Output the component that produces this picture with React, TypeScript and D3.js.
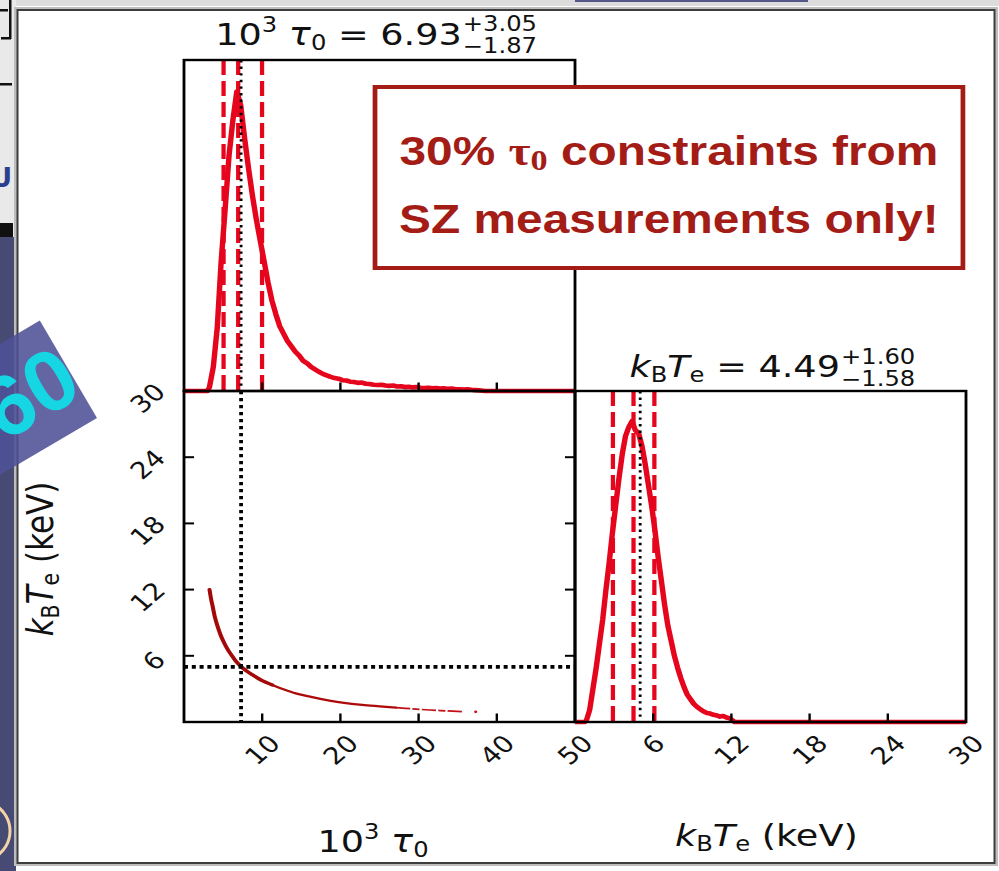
import React from 'react';
import * as d3 from 'd3';

// Axis ticks
const TAU_TICKS = [10, 20, 30, 40, 50];
const TE_TICKS = [6, 12, 18, 24, 30];
const TAU_DOMAIN = [0, 50];
const TE_DOMAIN = [0, 30];

// Marginal posterior of 10^3 tau_0 (normalised to peak ~1), bins of 0.5 starting at 3.0
const TAU_BIN_START = 3.0;
const TAU_BIN_WIDTH = 0.5;
const TAU_HIST = [
  0.012, 0.08, 0.21, 0.43, 0.6, 0.78, 0.9, 0.995, 0.95, 0.84,
  0.74, 0.65, 0.57, 0.5, 0.43, 0.36, 0.3, 0.255, 0.215, 0.19,
  0.165, 0.148, 0.13, 0.117, 0.1, 0.092, 0.08, 0.072, 0.064, 0.057,
  0.052, 0.047, 0.043, 0.041, 0.036, 0.035, 0.031, 0.03, 0.027, 0.028,
  0.024, 0.023, 0.021, 0.02, 0.021, 0.018, 0.017, 0.018, 0.015, 0.016,
  0.013, 0.014, 0.012, 0.013, 0.011, 0.01, 0.011, 0.009, 0.01, 0.008,
  0.009, 0.007, 0.008, 0.006, 0.006, 0.005, 0.006, 0.004, 0.003, 0.002,
  0.001,
];

// Marginal posterior of k_B T_e (keV), bins of 0.25 starting at 0.75
const TE_BIN_START = 0.75;
const TE_BIN_WIDTH = 0.25;
const TE_HIST = [
  0.005, 0.04, 0.11, 0.18, 0.26, 0.34, 0.44, 0.53, 0.63, 0.72,
  0.81, 0.89, 0.95, 0.98, 1.0, 0.97, 0.96, 0.92, 0.86, 0.79,
  0.72, 0.64, 0.55, 0.47, 0.39, 0.32, 0.27, 0.22, 0.18, 0.145,
  0.115, 0.09, 0.075, 0.06, 0.05, 0.042, 0.035, 0.03, 0.028, 0.024,
  0.022, 0.018, 0.02, 0.015, 0.012, 0.004,
];

// Median and 16/84 percentile offsets
const TAU_MEDIAN = 6.93;
const TAU_ERR = [1.87, 3.05];
const TE_MEDIAN = 4.49;
const TE_ERR = [1.58, 1.6];

// Input (truth) values
const TRUTH_TAU = 7.3;
const TRUTH_TE = 5.0;

// Joint posterior ridge in the (tau_0, T_e) plane
const RIDGE_TAU = [3.26, 3.45, 3.66, 3.95, 4.3, 4.7, 5.15, 5.65, 6.2, 6.7, 7.29, 8.0, 8.77, 10.0, 11.3, 12.8, 14.3, 16.4, 18.6, 20.7, 22.8, 25.0, 27.1, 29.2, 31.4, 33.5, 35.6];
const RIDGE_TE = [12.0, 11.2, 10.5, 9.5, 8.66, 7.85, 7.15, 6.5, 5.94, 5.45, 5.03, 4.62, 4.27, 3.75, 3.36, 2.95, 2.6, 2.25, 1.94, 1.72, 1.55, 1.42, 1.3, 1.19, 1.09, 1.01, 0.94];
const STRAY_SAMPLE = [37.3, 0.92];

const NOTE_LINES = ['constraints from', 'SZ measurements only!'];

// Layout
const P = 331; // panel size in chart units
const SX = 391 / 331; // horizontal stretch of the figure
const X0 = 184;
const ROW0_TOP = 60;
const ROW1_TOP = 391;
const ROW1_BOT = 722;

const RED = '#e5051c';
const DARK_RED = '#a30909';
const NOTE_RED = '#a31c16';
const FONT = '"DejaVu Sans", sans-serif';
const F = 31;
const FS = 20.5;
const TF = 23.5;

// Histogram outline through bin centres, running along the baseline outside the support
function outline(start: number, width: number, vals: number[], lo: number, hi: number) {
  const pts: [number, number][] = [[lo, 0], [start, 0]];
  vals.forEach((v, i) => pts.push([start + (i + 0.5) * width, v]));
  pts.push([start + vals.length * width, 0]);
  pts.push([hi, 0]);
  return pts;
}

export default function App() {
  const xTau = d3.scaleLinear().domain(TAU_DOMAIN).range([0, P]);
  const xTe = d3.scaleLinear().domain(TE_DOMAIN).range([P, 2 * P]);
  const yTe = d3.scaleLinear().domain(TE_DOMAIN).range([ROW1_BOT, ROW1_TOP]);
  const yTauHist = d3.scaleLinear().domain([0, 1.1]).range([ROW1_TOP, ROW0_TOP]);
  const yTeHist = d3.scaleLinear().domain([0, 1.1]).range([ROW1_BOT, ROW1_TOP]);

  const tauLine = d3
    .line<[number, number]>()
    .x((d) => xTau(d[0]))
    .y((d) => yTauHist(d[1]))
    .curve(d3.curveLinear)(outline(TAU_BIN_START, TAU_BIN_WIDTH, TAU_HIST, TAU_DOMAIN[0], TAU_DOMAIN[1]));

  const teLine = d3
    .line<[number, number]>()
    .x((d) => xTe(d[0]))
    .y((d) => yTeHist(d[1]))
    .curve(d3.curveLinear)(outline(TE_BIN_START, TE_BIN_WIDTH, TE_HIST, TE_DOMAIN[0], TE_DOMAIN[1]));

  const ridge = RIDGE_TAU.map((t, i) => [t, RIDGE_TE[i]] as [number, number]);
  const ridgeLine = d3
    .line<[number, number]>()
    .x((d) => xTau(d[0]))
    .y((d) => yTe(d[1]))
    .curve(d3.curveCatmullRom);
  const ridgeCore = ridgeLine(ridge.slice(0, 15));
  const ridgeMid = ridgeLine(ridge.slice(14, 23));
  const ridgeTail = ridgeLine(ridge.slice(22));

  const tauQ = [TAU_MEDIAN - TAU_ERR[0], TAU_MEDIAN, TAU_MEDIAN + TAU_ERR[1]];
  const teQ = [TE_MEDIAN - TE_ERR[0], TE_MEDIAN, TE_MEDIAN + TE_ERR[1]];

  const rotatedBox = (label: string) => {
    const w = label.length * 0.636 * TF;
    const h = 0.729 * TF;
    return (w + h) / Math.SQRT2;
  };

  const xTickLabel = (x: number, label: string, key: string) => {
    const b = rotatedBox(label);
    const cy = ROW1_BOT + 11 + b / 2;
    return (
      <text key={key} transform={`translate(${x},${cy}) rotate(-45)`} textAnchor="middle" dy="0.36em" fontSize={TF} fontFamily={FONT} fill="#111">
        {label}
      </text>
    );
  };

  const yTickLabel = (y: number, label: string, key: string) => {
    const b = rotatedBox(label);
    const cx = -14.4 - b / 2;
    const cy = y + (label.length > 1 ? 7 : 5);
    return (
      <text key={key} transform={`translate(${cx},${cy}) rotate(-45)`} textAnchor="middle" dy="0.36em" fontSize={TF} fontFamily={FONT} fill="#111">
        {label}
      </text>
    );
  };

  const tick = 8.5;
  const spine = { fill: 'none', stroke: '#000', strokeWidth: 2.4 } as const;

  return (
    <svg width={999} height={871} style={{ position: 'absolute', left: 0, top: 0 }}>
      {/* surrounding slide */}
      <rect x={0} y={0} width={999} height={871} fill="#ffffff" />
      <rect x={0} y={0} width={999} height={6} fill="#dcdcdc" />
      <rect x={575} y={0} width={233} height={2} fill="#55578a" />
      <rect x={0} y={0} width={16} height={237} fill="#e9e9e9" />
      <rect x={0} y={9} width={8} height={2.5} fill="#111" />
      <rect x={9} y={0} width={2.5} height={39} fill="#111" />
      <rect x={1} y={37} width={10} height={2.5} fill="#111" />
      <rect x={0} y={83} width={12} height={2.5} fill="#111" />
      <text x={-9} y={187} fontSize={26} fontWeight="bold" fontFamily={FONT} fill="#2c3f8f">U</text>
      <rect x={0} y={223} width={13} height={14} fill="#111" />
      <rect x={0} y={237} width={16} height={634} fill="#474a73" />
      <path d="M -5 805 A 30 30 0 0 1 -5 857" fill="none" stroke="#f3d4a6" strokeWidth={3} />
      <rect x={16.5} y={9.5} width={979} height={854} fill="#ffffff" stroke="#bdbdbd" strokeWidth={5} />
      <rect x={17.5} y={10} width={977} height={853} fill="#ffffff" stroke="#3d3d3d" strokeWidth={2} />

      <g transform={`translate(${X0},0) scale(${SX},1)`}>
        {/* top-left: tau_0 marginal */}
        <path d={tauLine ?? ''} fill="none" stroke={RED} strokeWidth={4.6} strokeLinejoin="round" />
        {tauQ.map((q, i) => (
          <line key={`tq${i}`} x1={xTau(q)} x2={xTau(q)} y1={ROW0_TOP} y2={ROW1_TOP} stroke={RED} strokeWidth={3.6} strokeDasharray="15 6" />
        ))}
        <line x1={xTau(TRUTH_TAU)} x2={xTau(TRUTH_TAU)} y1={ROW0_TOP} y2={ROW1_TOP} stroke="#000" strokeWidth={2.4} strokeDasharray="2.4 4.2" />
        <rect x={0} y={ROW0_TOP} width={P} height={P} {...spine} />
        {TAU_TICKS.slice(0, -1).map((t) => (
          <line key={`tt${t}`} x1={xTau(t)} x2={xTau(t)} y1={ROW1_TOP} y2={ROW1_TOP - tick} stroke="#000" strokeWidth={2} />
        ))}

        {/* bottom-left: joint posterior */}
        <path d={ridgeCore ?? ''} fill="none" stroke={DARK_RED} strokeWidth={3.4} strokeLinecap="round" />
        <path d={ridgeMid ?? ''} fill="none" stroke="#ad0a0a" strokeWidth={2.3} strokeLinecap="round" />
        <path d={ridgeTail ?? ''} fill="none" stroke="#c20f18" strokeWidth={1.7} strokeDasharray="12 2 6 2" />
        <circle cx={xTau(STRAY_SAMPLE[0])} cy={yTe(STRAY_SAMPLE[1])} r={1.3} fill="#d01020" />
        <line x1={xTau(TRUTH_TAU)} x2={xTau(TRUTH_TAU)} y1={ROW1_TOP} y2={ROW1_BOT} stroke="#000" strokeWidth={3.2} strokeDasharray="3.2 3.8" />
        <line x1={0} x2={P} y1={yTe(TRUTH_TE)} y2={yTe(TRUTH_TE)} stroke="#000" strokeWidth={3.6} strokeDasharray="3.4 3.2" />
        <rect x={0} y={ROW1_TOP} width={P} height={P} {...spine} />
        {TAU_TICKS.slice(0, -1).map((t) => (
          <line key={`bt${t}`} x1={xTau(t)} x2={xTau(t)} y1={ROW1_BOT} y2={ROW1_BOT - tick} stroke="#000" strokeWidth={2} />
        ))}
        {TE_TICKS.map((t) => (
          <g key={`lt${t}`}>
            <line x1={0} x2={tick} y1={yTe(t)} y2={yTe(t)} stroke="#000" strokeWidth={2} />
            <line x1={P} x2={P - tick} y1={yTe(t)} y2={yTe(t)} stroke="#000" strokeWidth={2} />
          </g>
        ))}
        {TAU_TICKS.map((t) => xTickLabel(xTau(t), String(t), `xl${t}`))}
        {TE_TICKS.map((t) => yTickLabel(yTe(t), String(t), `yl${t}`))}

        {/* bottom-right: T_e marginal */}
        <path d={teLine ?? ''} fill="none" stroke={RED} strokeWidth={4.6} strokeLinejoin="round" />
        {teQ.map((q, i) => (
          <line key={`eq${i}`} x1={xTe(q)} x2={xTe(q)} y1={ROW1_TOP} y2={ROW1_BOT} stroke={RED} strokeWidth={3.6} strokeDasharray="15 6" />
        ))}
        <line x1={xTe(TRUTH_TE)} x2={xTe(TRUTH_TE)} y1={ROW1_TOP} y2={ROW1_BOT} stroke="#000" strokeWidth={2.4} strokeDasharray="2.4 4.2" />
        <rect x={P} y={ROW1_TOP} width={P} height={P} {...spine} />
        {TE_TICKS.slice(0, -1).map((t) => (
          <line key={`et${t}`} x1={xTe(t)} x2={xTe(t)} y1={ROW1_BOT} y2={ROW1_BOT - tick} stroke="#000" strokeWidth={2} />
        ))}
        {TE_TICKS.map((t) => xTickLabel(xTe(t), String(t), `el${t}`))}

        {/* titles */}
        <text x={235.1} y={45} textAnchor="end" fontSize={F} fontFamily={FONT} fill="#111">
          10<tspan fontSize={FS} dy={-13}>3</tspan>
          <tspan dy={13}> </tspan>
          <tspan fontStyle="italic">τ</tspan>
          <tspan fontSize={FS} dy={5}>0</tspan>
          <tspan dy={-5}>{` = ${TAU_MEDIAN.toFixed(2)}`}</tspan>
        </text>
        <text x={236} y={31} fontSize={FS} fontFamily={FONT} fill="#111">{`+${TAU_ERR[1].toFixed(2)}`}</text>
        <text x={236} y={53} fontSize={FS} fontFamily={FONT} fill="#111">{`−${TAU_ERR[0].toFixed(2)}`}</text>

        <text x={555.3} y={376.7} textAnchor="end" fontSize={F} fontFamily={FONT} fill="#111">
          <tspan fontStyle="italic">k</tspan>
          <tspan fontSize={FS} dy={5}>B</tspan>
          <tspan fontStyle="italic" dy={-5}>T</tspan>
          <tspan fontSize={FS} dy={5}>e</tspan>
          <tspan dy={-5}>{` = ${TE_MEDIAN.toFixed(2)}`}</tspan>
        </text>
        <text x={556.2} y={364} fontSize={FS} fontFamily={FONT} fill="#111">{`+${TE_ERR[1].toFixed(2)}`}</text>
        <text x={556.2} y={386} fontSize={FS} fontFamily={FONT} fill="#111">{`−${TE_ERR[0].toFixed(2)}`}</text>

        {/* axis labels */}
        <text x={160} y={852} textAnchor="middle" fontSize={F} fontFamily={FONT} fill="#111">
          10<tspan fontSize={FS} dy={-13}>3</tspan>
          <tspan dy={13}> </tspan>
          <tspan fontStyle="italic">τ</tspan>
          <tspan fontSize={FS} dy={5}>0</tspan>
        </text>
        <text x={493} y={846} textAnchor="middle" fontSize={F} fontFamily={FONT} fill="#111">
          <tspan fontStyle="italic">k</tspan>
          <tspan fontSize={FS} dy={5}>B</tspan>
          <tspan fontStyle="italic" dy={-5}>T</tspan>
          <tspan fontSize={FS} dy={5}>e</tspan>
          <tspan dy={-5}> (keV)</tspan>
        </text>
        <text transform="translate(-110.5,559) rotate(-90)" textAnchor="middle" fontSize={F} fontFamily={FONT} fill="#111">
          <tspan fontStyle="italic">k</tspan>
          <tspan fontSize={FS} dy={5}>B</tspan>
          <tspan fontStyle="italic" dy={-5}>T</tspan>
          <tspan fontSize={FS} dy={5}>e</tspan>
          <tspan dy={-5}> (keV)</tspan>
        </text>

        {/* annotation */}
        <rect x={161.7} y={87} width={497.7} height={181} fill="#ffffff" stroke={NOTE_RED} strokeWidth={4} />
        <text x={410.5} y={165} textAnchor="middle" fontSize={40.5} fontWeight="bold" fontFamily='"Liberation Sans", Arial, sans-serif' fill={NOTE_RED}>
          30%{' '}
          <tspan fontFamily='"Liberation Serif", serif'>τ</tspan>
          <tspan fontFamily='"Liberation Serif", serif' fontSize={29} dy={5}>0</tspan>
          <tspan dy={-5}>{` ${NOTE_LINES[0]}`}</tspan>
        </text>
        <text x={410.5} y={233} textAnchor="middle" fontSize={40.5} fontWeight="bold" fontFamily='"Liberation Sans", Arial, sans-serif' fill={NOTE_RED}>
          {NOTE_LINES[1]}
        </text>
      </g>

      {/* slide badge overlapping the frame */}
      <g transform="translate(97,418) rotate(-30.4)">
        <rect x={-260} y={-113} width={260} height={113} fill="#4f5196" opacity={0.88} />
        <text x={2} y={-26} textAnchor="end" fontSize={86} fontWeight="bold" fontFamily='"Liberation Sans", Arial, sans-serif' fill="#16d6e4">60</text>
      </g>
    </svg>
  );
}
